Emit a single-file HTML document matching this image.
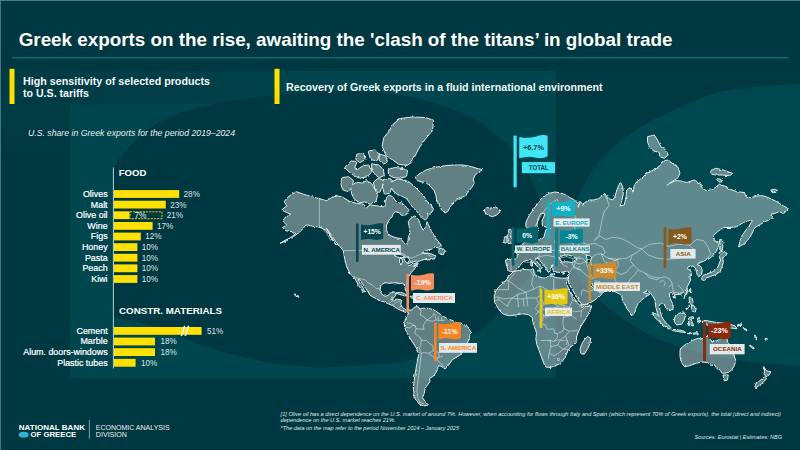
<!DOCTYPE html>
<html><head><meta charset="utf-8"><title>Greek exports</title>
<style>
html,body{margin:0;padding:0;}
body{width:800px;height:450px;overflow:hidden;background:#003841;font-family:"Liberation Sans",sans-serif;}
svg{display:block;}
svg text{font-family:"Liberation Sans",sans-serif;}
</style></head><body>
<svg width="800" height="450" viewBox="0 0 800 450">
<defs>
<linearGradient id="lm" x1="0" y1="0" x2="0" y2="1"><stop offset="0" stop-color="#013c45"/><stop offset="0.11" stop-color="#013c45"/><stop offset="0.3" stop-color="#003841"/><stop offset="1" stop-color="#003841"/></linearGradient>
<linearGradient id="bandg" x1="0" y1="0" x2="1" y2="0"><stop offset="0" stop-color="#013c45" stop-opacity="0.9"/><stop offset="0.2" stop-color="#013c45" stop-opacity="0.85"/><stop offset="0.55" stop-color="#013c45" stop-opacity="0"/><stop offset="1" stop-color="#013c45" stop-opacity="0"/></linearGradient>
<clipPath id="cpL"><rect x="113.3" y="72" width="442.7" height="306"/></clipPath>
<clipPath id="cpR"><rect x="556" y="72" width="244" height="306"/></clipPath>
</defs>
<rect x="0" y="0" width="800" height="450" fill="#003841"/>
<rect x="0" y="71" width="800" height="307" fill="url(#lm)"/>
<rect x="556" y="71" width="244" height="307" fill="#003942"/>
<rect x="70" y="71" width="486" height="307" fill="#00464e"/>
<rect x="70" y="71" width="486" height="33" fill="url(#bandg)"/>
<g clip-path="url(#cpL)"><path d="M100.0,240.0 C100.7,222.5 101.8,212.0 104.0,200.0 C106.2,188.0 107.7,178.0 113.0,168.0 C118.3,158.0 129.8,146.7 136.0,140.0 C142.2,133.3 143.5,132.2 150.0,128.0 C156.5,123.8 164.2,119.1 175.0,115.0 C185.8,110.9 200.8,106.5 215.0,103.5 C229.2,100.5 245.8,98.8 260.0,97.0 C274.2,95.2 286.7,94.0 300.0,93.0 C313.3,92.0 326.7,91.1 340.0,91.0 C353.3,90.9 368.3,91.5 380.0,92.5 C391.7,93.5 401.7,95.4 410.0,97.0 C418.3,98.6 421.7,99.5 430.0,102.0 C438.3,104.5 451.7,108.7 460.0,112.0 C468.3,115.3 473.3,117.7 480.0,122.0 C486.7,126.3 494.5,133.2 500.0,138.0 C505.5,142.8 508.7,145.7 513.0,151.0 C517.3,156.3 522.2,163.5 526.0,170.0 C529.8,176.5 533.3,183.3 536.0,190.0 C538.7,196.7 540.5,203.0 542.0,210.0 C543.5,217.0 546.7,222.0 545.0,232.0 C543.3,242.0 538.2,258.3 532.0,270.0 C525.8,281.7 517.7,291.3 508.0,302.0 C498.3,312.7 490.3,324.3 474.0,334.0 C457.7,343.7 434.0,354.5 410.0,360.0 C386.0,365.5 348.0,366.0 330.0,367.0 C312.0,368.0 311.2,366.6 302.0,366.0 C292.8,365.4 284.1,364.7 275.0,363.4 C265.9,362.1 256.7,360.1 247.5,358.0 C238.3,355.9 229.2,353.8 220.0,351.0 C210.8,348.2 201.7,344.8 192.5,341.4 C183.3,338.0 174.2,333.6 165.0,330.4 C155.8,327.2 146.2,324.3 137.5,322.0 C128.8,319.7 119.2,319.3 113.0,316.5 C106.8,313.7 102.2,317.8 100.0,305.0 C97.8,292.2 99.3,257.5 100.0,240.0Z" fill="#003841"/></g>
<g clip-path="url(#cpR)"><path d="M830.0,82.0 C813.3,59.3 813.3,83.1 800.0,84.0 C786.7,84.9 765.0,85.7 750.0,87.5 C735.0,89.3 725.2,90.1 710.0,95.0 C694.8,99.9 672.0,110.7 659.0,117.0 C646.0,123.3 641.8,125.8 632.0,133.0 C622.2,140.2 609.0,149.2 600.0,160.0 C591.0,170.8 583.5,184.7 578.0,198.0 C572.5,211.3 567.2,227.2 567.0,240.0 C566.8,252.8 571.8,265.2 577.0,275.0 C582.2,284.8 590.8,292.1 598.0,299.0 C605.2,305.9 611.3,310.7 620.0,316.7 C628.7,322.7 640.0,330.0 650.0,335.0 C660.0,340.0 670.0,343.4 680.0,346.7 C690.0,350.0 698.3,352.5 710.0,355.0 C721.7,357.5 735.0,359.8 750.0,361.7 C765.0,363.6 785.0,365.6 800.0,366.7 C815.0,367.8 823.3,392.4 840.0,368.0 C856.7,343.6 901.7,267.7 900.0,220.0 C898.3,172.3 846.7,104.7 830.0,82.0Z" fill="#004850"/></g>
<rect x="12" y="57.2" width="777" height="1.1" fill="#0c7a80"/>
<rect x="9.5" y="68.8" width="5" height="35.2" fill="#ffe000"/>
<rect x="274.5" y="68.8" width="5" height="35.2" fill="#ffe000"/>
<rect x="0" y="0" width="800" height="1" fill="#4b7d87"/><rect x="0" y="0" width="1" height="450" fill="#4b7d87" opacity="0.9"/>
<g id="map"><filter id="rough" x="-2%" y="-2%" width="104%" height="104%"><feTurbulence type="fractalNoise" baseFrequency="0.32" numOctaves="2" seed="7" result="n"/><feDisplacementMap in="SourceGraphic" in2="n" scale="2.6" xChannelSelector="R" yChannelSelector="G"/></filter><g filter="url(#rough)"><path d="M382.2,146.2 L382.2,146.5 L386.2,155.9 L386.4,156.1 L393.0,160.1 L398.4,164.1 L398.6,164.2 L406.6,165.5 L407.0,165.4 L411.0,162.7 L411.1,162.6 L415.1,156.0 L415.1,155.9 L419.1,148.0 L425.7,138.6 L432.4,130.8 L432.5,130.5 L433.5,120.5 L433.4,120.2 L433.1,120.0 L425.1,117.5 L425.0,117.5 L412.0,117.0 L411.9,117.0 L399.9,118.5 L399.7,118.6 L392.7,124.6 L392.6,124.8 L388.6,131.7 L383.6,138.0 L383.5,138.2Z M377.4,160.3 L379.1,155.3 L379.0,154.5 L375.6,150.3 L374.9,150.0 L369.1,150.9 L368.5,151.2 L368.4,151.9 L369.2,155.2 L369.3,155.4 L371.8,159.6 L372.3,160.0 L376.5,160.8 L377.1,160.7Z M364.9,159.5 L365.0,159.0 L364.1,154.0 L363.8,153.5 L363.2,153.4 L357.4,154.2 L357.0,154.4 L356.7,154.8 L355.9,159.0 L356.2,159.8 L359.5,162.3 L360.0,162.5 L360.4,162.4 L364.6,159.9Z M387.4,162.0 L387.4,161.4 L385.8,156.4 L385.3,155.9 L380.3,154.2 L379.5,154.4 L379.2,155.0 L379.2,160.0 L379.4,160.6 L382.8,163.9 L383.2,164.1 L383.7,164.0 L387.0,162.4Z M366.9,176.7 L367.3,176.5 L371.5,172.3 L371.7,171.8 L371.7,171.3 L369.2,165.5 L368.8,165.0 L368.2,164.9 L363.2,165.8 L362.8,165.9 L358.2,169.0 L354.5,167.8 L356.7,162.9 L356.6,162.1 L356.0,161.6 L351.8,160.8 L351.0,161.0 L345.2,166.9 L344.9,167.5 L345.2,168.1 L349.4,172.3 L349.5,172.4 L354.5,175.7 L354.6,175.8 L359.6,178.3 L360.2,178.4Z M383.7,175.8 L384.1,175.4 L384.2,174.9 L383.4,169.9 L383.1,169.4 L379.0,165.2 L378.5,164.9 L372.6,164.1 L371.9,164.3 L371.6,165.0 L371.6,169.2 L371.7,169.6 L374.2,173.8 L374.4,174.0 L378.6,177.4 L379.5,177.5Z M406.1,176.6 L406.6,176.0 L407.5,171.0 L407.4,170.4 L406.9,170.1 L401.9,168.4 L401.8,168.4 L395.1,167.5 L394.8,167.6 L388.9,169.2 L388.5,169.5 L388.4,170.0 L388.4,174.2 L388.8,174.9 L392.9,177.4 L393.2,177.5 L399.9,178.3 L400.2,178.3Z M350.9,188.6 L351.5,193.5 L351.6,193.8 L354.1,198.8 L354.4,199.2 L359.4,202.5 L360.2,202.7 L364.8,201.9 L369.6,204.2 L370.4,204.2 L375.4,201.7 L376.0,201.1 L377.6,195.3 L377.6,194.6 L375.1,189.6 L375.0,189.5 L371.7,183.7 L371.3,183.3 L367.2,180.8 L366.2,180.8 L362.3,183.1 L356.8,182.3 L356.1,182.5 L352.7,184.7 L353.3,180.9 L353.0,180.2 L348.8,176.9 L348.2,176.7 L342.4,177.5 L341.9,177.8 L341.7,178.2 L340.9,184.1 L340.9,184.4 L342.6,189.4 L343.0,189.9 L347.2,191.6 L348.1,191.4Z M382.5,186.8 L382.9,183.7 L382.5,186.6 L382.6,186.9 L384.2,193.5 L384.6,194.0 L385.2,194.1 L389.3,193.3 L389.9,192.8 L391.5,187.9 L392.5,190.3 L392.8,190.7 L396.9,194.0 L397.2,194.2 L401.3,195.8 L406.1,198.2 L409.3,202.2 L412.6,207.2 L412.7,207.3 L416.8,211.4 L420.1,215.6 L420.2,215.6 L424.4,219.8 L425.0,220.1 L425.6,219.8 L428.1,217.3 L428.4,216.4 L427.3,213.2 L429.7,214.2 L430.3,214.2 L430.8,213.8 L433.3,209.6 L433.3,208.7 L430.8,204.5 L430.6,204.3 L426.5,201.1 L424.1,196.3 L424.0,196.0 L414.0,186.0 L413.9,186.0 L408.9,181.8 L408.6,181.6 L403.6,180.0 L403.5,179.9 L397.6,179.1 L397.1,179.2 L392.1,181.7 L391.7,182.2 L390.8,178.9 L390.4,178.5 L389.9,178.4 L384.1,179.2 L383.6,179.4 L383.4,179.9 L383.3,180.8 L383.2,180.4 L382.8,180.1 L378.6,178.4 L377.8,178.5 L373.7,181.9 L373.4,182.7 L375.1,189.4 L375.4,189.8 L378.7,192.3 L379.4,192.4 L379.9,192.0 L382.4,187.0Z M436.7,200.0 L439.2,205.0 L441.7,210.0 L445.0,213.0 L447.5,211.7 L450.0,207.5 L452.5,203.3 L456.7,200.0 L461.7,197.5 L466.7,195.0 L468.3,191.7 L471.7,187.5 L474.2,183.3 L473.3,179.2 L475.0,175.0 L478.3,172.5 L482.5,169.7 L478.3,168.7 L471.7,166.7 L463.3,165.0 L453.3,165.0 L444.2,165.8 L435.0,167.5 L426.7,169.7 L420.0,173.3 L415.0,177.5 L417.5,180.8 L421.7,181.7 L426.7,183.3 L430.8,186.7 L434.2,190.8 L435.8,195.0Z M404.2,215.0 L405.9,214.8 L406.3,214.5 L408.8,210.3 L408.9,209.9 L408.8,209.6 L405.4,206.2 L405.1,206.2 L405.0,205.8 L401.7,202.5 L398.3,203.3 L395.0,200.0 L392.5,196.7 L389.2,195.0 L386.7,197.5 L385.0,202.5 L385.0,207.0 L376.7,205.8 L370.0,205.0 L366.7,207.5 L363.3,204.2 L356.7,203.3 L350.0,201.7 L343.3,197.5 L337.5,195.8 L331.7,197.5 L326.7,200.8 L319.2,198.7 L311.7,196.7 L303.3,194.2 L296.7,191.7 L291.7,194.2 L287.5,197.5 L284.2,201.7 L286.7,205.8 L281.7,210.0 L286.7,212.5 L290.8,214.2 L285.0,217.5 L283.3,221.7 L286.7,225.0 L282.5,227.5 L285.8,230.8 L291.7,231.7 L295.0,234.2 L290.0,238.0 L285.0,240.3 L280.0,243.3 L286.7,240.8 L293.3,236.7 L299.2,232.5 L303.3,228.3 L305.8,225.0 L309.2,225.3 L312.5,226.3 L317.5,226.7 L321.7,228.0 L325.8,230.3 L329.2,235.0 L332.5,240.0 L335.8,244.7 L326.4,228.2 L329.4,232.2 L332.4,236.6 L336.0,242.0 L340.0,246.6 L343.2,250.6 L344.0,255.0 L345.0,260.0 L346.7,266.8 L350.0,273.5 L354.2,277.7 L355.8,280.2 L358.3,285.2 L362.5,291.0 L365.0,292.7 L363.3,288.3 L360.3,283.7 L358.0,279.7 L359.7,279.7 L363.3,285.2 L367.5,291.0 L370.0,295.2 L374.2,297.7 L379.2,300.2 L384.2,301.8 L388.3,303.8 L392.5,305.5 L395.8,307.7 L399.2,309.7 L402.5,311.0 L405.8,312.5 L409.0,313.0 L408.5,313.5 L406.0,318.0 L404.2,323.0 L404.8,328.0 L407.0,333.0 L410.5,339.0 L415.0,346.0 L419.0,352.5 L417.5,360.0 L415.8,370.0 L414.2,380.0 L413.3,388.0 L414.2,395.0 L415.8,400.0 L419.2,404.0 L423.5,406.0 L428.5,405.0 L425.0,401.5 L422.5,397.5 L424.2,393.5 L425.0,388.5 L427.5,385.0 L430.0,381.5 L429.5,378.5 L433.5,376.0 L436.0,372.5 L437.5,369.5 L438.5,365.5 L442.0,366.5 L445.0,369.0 L449.0,364.5 L452.5,359.5 L459.5,355.5 L465.0,349.0 L467.5,343.0 L469.5,337.5 L470.8,332.0 L468.0,327.0 L462.0,323.5 L456.0,322.5 L452.0,320.3 L448.3,319.2 L443.3,316.3 L438.3,312.8 L433.3,309.5 L429.0,308.5 L424.0,308.0 L420.0,309.0 L417.8,306.3 L414.2,307.3 L411.7,310.0 L411.3,310.4 L411.7,310.0 L409.2,310.0 L405.8,309.7 L402.5,307.5 L400.8,304.2 L401.7,300.0 L397.5,299.2 L393.3,300.0 L390.8,299.2 L394.2,297.5 L396.2,294.2 L394.2,291.7 L390.0,293.3 L388.3,295.3 L385.0,296.3 L381.7,294.2 L380.0,290.0 L381.0,285.0 L385.0,282.7 L390.0,283.3 L395.0,282.7 L399.2,283.7 L402.5,283.0 L404.3,285.0 L405.3,290.0 L407.0,292.7 L407.3,286.7 L407.0,281.3 L408.7,276.7 L411.3,272.5 L414.7,268.7 L418.3,263.3 L413.7,267.0 L415.0,264.7 L417.5,262.4 L413.0,264.2 L409.0,265.6 L407.0,264.2 L412.0,262.2 L416.4,261.0 L417.8,262.1 L418.7,261.3 L421.7,260.3 L425.0,259.2 L428.0,260.0 L430.8,258.3 L434.2,259.2 L435.8,256.3 L433.3,254.7 L428.7,253.3 L425.0,253.7 L422.5,252.5 L426.7,250.3 L431.3,249.3 L434.7,247.0 L438.3,248.0 L441.2,245.3 L439.2,242.5 L435.8,238.3 L431.7,231.7 L428.7,225.3 L427.0,221.7 L425.8,226.7 L423.3,230.3 L420.8,225.8 L418.7,220.0 L415.0,215.8 L410.8,218.3 L408.3,221.7 L409.2,226.7 L410.0,232.5 L408.3,237.5 L408.0,242.5 L405.8,244.7 L403.7,242.5 L400.8,238.7 L395.0,237.5 L389.7,235.3 L386.7,230.8 L386.3,225.8 L389.2,219.7 L392.7,216.0 L392.5,215.0 L395.0,211.7 L399.1,212.5 L401.2,215.1 L401.7,215.3 L404.1,215.0 L404.2,215.0Z M397.0,257.0 L394.0,255.4 L398.0,254.2 L402.4,255.0 L404.4,257.0 L401.0,257.8Z M407.6,263.0 L405.0,261.4 L403.6,257.4 L408.0,257.0 L409.6,260.0Z M401.2,265.0 L399.6,263.4 L399.6,258.6 L402.0,258.2 L402.4,262.0Z M495.0,206.7 L490.8,208.3 L486.7,207.5 L484.2,210.0 L485.3,213.0 L488.3,215.3 L492.5,216.7 L496.7,215.0 L500.0,212.0 L499.2,209.2Z M438.7,251.7 L440.3,254.2 L443.3,254.7 L445.0,250.8 L442.5,248.0 L439.2,248.7Z M399.2,294.3 L404.2,295.7 L408.7,296.0 L406.7,294.7 L400.8,292.2 L395.8,293.0Z M297.6,297.4 L299.0,296.6 L297.0,294.6 L294.4,294.0 L295.0,295.4Z M414.2,295.8 L410.0,296.3 L411.7,298.3 L415.8,297.7Z M668.3,155.0 L665.8,150.0 L660.8,146.7 L657.5,140.0 L654.2,135.0 L647.5,136.7 L647.5,141.7 L649.2,146.7 L653.3,150.8 L659.2,152.5 L660.0,156.7 L664.2,158.3Z M540.0,180.1 L540.1,180.0 L540.0,180.0Z M511.0,235.0 L511.7,230.3 L509.0,229.0 L508.3,232.3 L507.0,236.3 L508.3,239.7 L507.7,243.7 L512.3,243.0 L513.0,239.7Z M505.7,243.3 L507.3,241.0 L506.7,236.3 L504.3,237.0 L503.8,242.3Z M530.0,259.5 L532.5,261.0 L535.0,264.0 L538.0,267.0 L540.5,269.5 L542.3,267.5 L541.0,265.5 L538.0,263.0 L536.0,260.0 L535.5,258.0 L538.0,258.5 L541.0,262.0 L543.5,265.0 L545.5,267.5 L547.0,270.0 L548.0,272.5 L550.0,271.0 L550.5,268.5 L553.0,264.5 L552.5,267.5 L553.0,270.5 L556.0,272.0 L560.0,272.5 L564.0,271.8 L568.0,271.0 L568.8,273.0 L568.5,277.0 L568.3,280.0 L568.8,283.5 L572.3,289.5 L575.8,295.5 L579.3,301.3 L581.5,304.0 L581.3,305.2 L585.0,304.3 L590.8,302.5 L595.8,299.3 L600.0,296.0 L602.7,292.7 L598.0,291.3 L595.0,289.3 L592.0,287.0 L590.0,285.0 L591.0,283.3 L592.7,285.0 L594.2,287.0 L597.0,288.7 L600.0,290.5 L602.5,291.7 L608.3,291.3 L615.0,291.7 L619.2,293.7 L621.7,295.8 L622.5,300.0 L624.2,303.3 L626.7,308.3 L630.0,312.5 L631.7,315.8 L634.2,313.3 L635.8,308.3 L638.3,303.3 L641.7,300.0 L645.8,296.7 L650.0,294.2 L643.3,292.5 L646.7,290.8 L650.0,292.5 L652.5,295.8 L655.0,300.0 L655.8,306.7 L657.5,313.3 L659.2,316.3 L656.7,314.2 L652.5,312.5 L654.2,316.7 L659.2,321.7 L664.2,325.8 L669.2,329.2 L670.8,327.5 L666.7,323.3 L665.0,321.7 L661.7,316.7 L660.0,310.0 L659.2,305.0 L661.7,303.3 L664.2,305.0 L666.7,308.3 L670.0,310.8 L673.3,308.3 L672.5,303.3 L670.0,298.3 L669.2,293.3 L671.7,292.5 L674.2,295.0 L679.2,294.2 L683.3,292.5 L687.2,289.4 L686.7,288.0 L688.7,284.0 L690.7,280.0 L690.0,276.7 L691.6,272.7 L690.0,270.0 L687.3,268.7 L688.3,266.7 L692.0,265.6 L694.8,267.3 L696.1,270.0 L696.9,274.0 L698.8,276.8 L701.6,274.4 L702.3,270.0 L700.4,266.0 L697.3,264.7 L700.0,262.7 L704.7,260.7 L709.3,258.7 L713.3,255.3 L716.7,250.7 L718.7,245.3 L719.6,241.7 L720.1,244.7 L720.1,249.3 L720.3,249.6 L721.9,250.3 L722.2,250.3 L722.3,250.0 L723.0,244.7 L723.0,244.6 L722.6,240.0 L722.5,239.8 L722.3,239.7 L719.6,239.7 L719.4,239.8 L719.3,240.1 L719.4,240.6 L717.5,242.5 L714.2,240.0 L713.3,235.8 L717.5,231.7 L723.3,227.5 L730.0,227.5 L736.7,226.7 L743.3,222.5 L750.0,220.3 L752.5,220.8 L750.8,223.0 L748.7,226.7 L745.3,230.8 L742.0,235.8 L739.7,241.7 L738.7,247.0 L743.3,244.3 L747.5,240.3 L750.8,235.8 L753.0,231.3 L755.0,227.5 L759.2,225.0 L765.0,221.7 L770.8,219.2 L772.5,218.3 L770.8,214.2 L775.0,213.3 L779.2,211.7 L784.2,213.3 L788.3,208.3 L783.3,205.8 L776.7,201.7 L770.0,198.3 L763.3,195.8 L757.5,195.8 L751.7,197.5 L746.7,197.5 L744.2,192.5 L736.7,191.7 L730.0,189.2 L724.2,185.8 L718.3,185.0 L713.3,189.2 L706.7,190.8 L702.5,188.3 L700.0,183.3 L694.2,180.0 L686.7,182.5 L680.0,180.8 L675.0,180.8 L668.3,184.2 L671.7,181.7 L677.5,178.3 L680.0,173.3 L678.3,167.5 L673.3,164.2 L668.3,160.0 L663.3,160.8 L660.0,165.8 L653.3,170.0 L646.7,173.3 L641.7,178.3 L636.7,181.7 L634.2,185.8 L633.3,191.7 L630.0,187.5 L626.7,190.0 L625.8,198.3 L624.2,205.0 L620.0,206.0 L622.0,200.0 L623.3,193.3 L622.7,186.7 L620.7,182.7 L618.7,185.3 L616.7,190.7 L614.7,197.3 L612.7,200.0 L609.3,198.7 L606.7,196.7 L604.7,193.3 L602.7,195.3 L598.7,198.7 L593.3,200.0 L589.3,200.0 L586.0,202.0 L582.7,204.0 L580.0,201.6 L579.1,205.3 L578.0,207.3 L578.7,204.7 L576.7,202.0 L573.3,199.3 L569.3,197.3 L565.3,194.7 L560.0,192.7 L554.7,192.0 L549.3,193.3 L544.0,196.0 L540.0,200.0 L538.0,203.5 L533.5,209.0 L529.0,216.0 L526.0,222.0 L525.8,226.5 L528.5,229.5 L531.5,229.0 L532.5,234.0 L535.5,235.0 L538.5,230.0 L537.0,225.0 L538.0,219.0 L541.0,213.0 L545.0,214.0 L542.0,221.0 L542.5,226.0 L546.0,227.0 L550.0,228.5 L546.0,229.5 L545.0,233.0 L544.0,237.0 L541.0,239.5 L536.0,240.5 L531.5,240.0 L531.0,236.0 L529.0,232.5 L528.0,236.0 L527.5,240.0 L525.0,242.0 L522.0,244.5 L519.5,247.5 L517.0,249.5 L513.5,251.5 L517.5,254.5 L516.5,259.0 L511.0,259.0 L505.5,260.0 L506.5,266.0 L508.5,271.0 L512.0,271.5 L515.0,271.0 L516.5,268.5 L519.5,266.0 L521.5,263.5 L523.5,261.5 L526.5,260.5Z M562.5,262.0 L560.0,260.0 L559.2,257.5 L563.3,255.3 L568.3,255.0 L572.5,256.3 L576.7,258.3 L575.8,261.3 L571.7,262.5 L566.7,261.7Z M587.2,258.7 L586.0,255.7 L589.3,255.0 L591.8,257.8 L590.5,261.2 L591.5,265.0 L588.5,265.7 L586.8,262.0Z M532.5,261.5 L530.8,261.5 L530.9,266.0 L532.6,266.0Z M541.0,270.0 L537.5,270.3 L538.0,271.8 L540.5,272.3Z M565.0,273.0 L562.5,273.5 L562.8,274.4 L564.6,274.2Z M554.0,273.8 L550.5,274.0 L550.5,275.0 L554.0,274.8Z M691.0,288.8 L689.5,288.3 L689.2,291.3 L690.5,292.5Z M686.0,294.7 L688.0,291.3 L687.3,289.6 L684.0,298.7Z M675.0,295.7 L673.0,296.0 L673.3,297.8 L675.0,297.7Z M689.2,305.3 L685.8,309.2 L686.3,310.0 L689.7,306.0Z M494.7,302.5 L496.7,305.8 L499.2,310.0 L503.3,314.2 L509.2,315.8 L515.8,315.0 L522.5,313.7 L528.3,314.7 L532.5,317.5 L532.5,321.0 L534.2,326.7 L536.7,332.5 L535.8,338.3 L536.7,344.2 L539.2,350.8 L541.7,357.5 L544.2,364.2 L545.8,367.0 L550.0,367.5 L555.0,365.8 L560.0,363.7 L563.3,360.0 L565.8,355.8 L567.5,351.7 L570.0,347.5 L574.2,344.2 L576.7,340.5 L576.5,337.0 L578.3,332.0 L580.8,326.5 L585.0,320.0 L590.0,311.7 L591.7,305.8 L586.7,306.7 L583.0,306.2 L580.5,306.0 L577.0,302.5 L573.3,296.5 L569.8,290.5 L566.3,284.0 L567.5,277.5 L566.0,278.2 L561.0,278.2 L556.0,277.5 L552.0,276.0 L548.0,276.0 L546.0,278.0 L542.0,278.0 L538.0,276.5 L535.0,275.0 L533.5,272.0 L533.0,268.7 L530.0,270.0 L524.0,269.5 L518.0,270.5 L513.0,272.0 L510.0,275.0 L507.0,279.0 L504.0,282.5 L499.0,286.5 L495.8,290.8 L494.2,296.7Z M679.2,313.3 L675.0,316.7 L674.2,321.7 L676.7,325.0 L681.7,324.2 L684.2,320.0 L685.8,315.0 L683.3,311.7Z M692.5,322.5 L690.8,319.2 L693.7,318.3 L693.3,316.7 L688.7,317.5 L688.7,320.8 L688.0,325.0 L689.2,325.8 L690.3,322.5 L691.7,325.8 L693.7,325.8Z M673.3,330.8 L680.0,332.0 L685.8,332.5 L683.3,330.8 L676.7,329.7 L670.8,329.2Z M690.8,332.7 L687.5,332.7 L687.5,333.7 L690.8,333.7Z M590.0,343.3 L590.8,338.3 L587.5,336.3 L584.2,340.0 L581.7,344.2 L580.0,349.2 L580.8,353.3 L584.2,354.2 L587.5,349.2Z M715.8,168.3 L710.0,170.8 L711.7,174.2 L715.8,175.0 L722.5,175.0 L730.0,175.8 L732.5,173.3 L723.3,170.0Z M720.8,179.2 L716.7,178.7 L718.0,182.0 L721.7,182.0Z M775.8,192.5 L777.5,190.3 L774.2,189.2 L770.8,190.0 L772.0,192.3Z M716.7,269.4 L712.4,272.0 L707.1,273.8 L707.1,273.8 L703.1,275.4 L702.8,275.8 L701.5,278.7 L701.4,279.1 L701.7,279.5 L703.9,280.5 L704.3,280.6 L704.7,280.3 L705.9,278.0 L710.3,276.6 L710.3,276.6 L715.7,274.6 L715.8,274.5 L719.8,271.8 L720.0,271.6 L722.0,266.9 L722.0,266.8 L723.4,262.2 L723.4,261.9 L722.6,257.5 L724.7,257.1 L725.0,256.9 L727.0,253.5 L727.1,253.2 L726.8,253.0 L722.8,251.0 L722.5,251.0 L719.2,252.3 L719.0,252.5 L719.0,252.8 L720.2,255.7 L719.8,255.7 L719.5,256.0 L719.4,256.5 L720.6,260.0 L718.6,265.1Z M689.3,300.0 L690.0,303.3 L691.7,305.0 L693.0,302.5 L692.0,297.5 L689.2,297.0Z M691.7,308.7 L692.5,311.3 L695.3,312.0 L696.3,308.3 L693.7,305.3 L691.3,305.8Z M699.2,317.5 L697.5,318.3 L698.0,322.0 L699.7,321.7Z M727.5,327.5 L732.5,328.3 L737.0,328.7 L735.0,325.8 L730.0,324.2 L724.2,323.3 L716.7,322.5 L710.0,321.3 L705.0,320.3 L702.0,321.7 L703.0,323.3 L705.8,324.7 L710.0,325.8 L714.2,326.7 L718.3,328.0 L723.3,328.3Z M741.3,323.7 L737.5,324.7 L738.3,326.0 L742.0,325.0Z M747.5,330.0 L743.3,327.5 L742.8,328.3 L747.0,331.0Z M697.5,332.7 L692.5,333.0 L693.0,334.2 L698.3,333.8Z M756.0,336.3 L754.7,335.0 L755.3,338.7 L756.7,340.0Z M767.0,338.3 L765.0,338.7 L765.3,340.0 L767.3,339.7Z M754.2,348.0 L750.0,345.0 L749.5,346.0 L753.7,349.0Z M707.5,362.5 L711.7,365.8 L714.2,364.2 L716.7,368.3 L720.0,370.8 L723.3,373.3 L728.3,372.5 L731.7,370.0 L734.2,365.8 L735.8,360.8 L734.2,355.8 L731.3,347.5 L728.0,342.5 L726.7,338.3 L725.0,334.7 L723.0,336.7 L720.0,339.2 L716.7,340.8 L712.5,341.7 L710.0,339.2 L707.5,336.3 L704.2,337.0 L701.7,339.3 L698.3,338.3 L693.3,340.0 L687.5,343.3 L682.5,346.7 L680.0,350.0 L680.0,356.7 L681.7,362.5 L684.2,366.7 L689.2,365.8 L695.0,363.7 L701.7,362.0Z M763.3,366.7 L764.7,370.0 L764.2,373.3 L765.8,376.7 L769.2,375.0 L770.8,371.7 L766.7,370.8Z M728.3,375.0 L723.0,375.0 L724.2,380.8 L727.5,380.0Z M759.2,381.2 L754.2,385.3 L755.8,387.8 L760.8,384.5 L766.7,378.7 L764.2,377.0Z" fill="#f0ece8" fill-opacity="0.4" fill-rule="evenodd" stroke="#e3eded" stroke-width="1.0" stroke-linejoin="round"/></g><path d="M319.3,198.7 L319.3,226.5 L323.0,229.0 L327.0,234.0 L331.0,241.0 M343.5,250.6 L395.0,250.6 L399.0,252.5 L404.0,254.0 L408.0,257.5 L412.0,258.0 L416.0,256.0 L420.0,254.5 L424.0,252.5 L427.5,252.0 L429.0,255.5 L431.5,256.5 M354.0,277.5 L360.0,278.7 L365.0,279.7 L367.5,282.5 L372.5,285.0 L375.8,288.3 L381.0,289.2 M389.0,303.5 L392.0,301.0 L395.0,301.0 L396.0,298.5 M393.0,305.0 L396.5,302.5 L400.0,301.0 M399.0,307.5 L402.0,306.0 M418.0,307.3 L421.3,311.3 L420.0,314.7 L424.7,317.3 L426.7,320.0 M426.7,320.0 L430.0,318.0 L433.3,315.3 L434.0,312.7 M434.7,314.0 L436.0,320.0 M438.0,316.0 L438.7,320.7 M441.3,316.7 L442.0,320.7 M426.7,320.0 L432.0,321.3 L436.0,320.0 L442.0,320.7 L445.3,320.0 M406.7,322.7 L410.7,323.3 L415.3,326.0 M406.0,327.3 L410.0,328.0 L412.7,325.3 L415.3,326.0 M426.7,320.0 L423.3,325.3 L424.0,329.3 L416.0,328.7 L415.3,326.0 M416.0,328.7 L414.7,333.3 L420.0,337.3 L421.3,340.0 M421.3,340.0 L420.7,345.3 L419.3,348.0 M421.3,340.0 L426.7,340.7 L430.0,344.0 L432.7,345.3 L433.3,350.7 M419.3,348.0 L421.3,353.3 L424.7,352.7 L428.7,353.3 L433.3,350.7 M433.3,350.7 L438.0,352.0 L439.3,356.0 L436.7,358.7 L432.9,356.7 L428.7,353.3 M421.3,353.3 L420.5,360.0 L419.5,370.0 L418.0,380.0 L417.0,390.0 L417.5,398.0 L420.0,402.5 L424.0,404.0 M436.7,358.7 L438.5,361.5 L441.5,364.0 L444.0,367.0 M436.7,358.7 L440.0,357.0 L443.0,356.0 M514.9,273.1 L511.8,276.8 L508.5,280.5 L501.1,282.3 M508.5,280.5 L517.7,287.8 L526.0,292.4 L534.3,288.8 L531.5,284.1 L533.4,275.8 L530.6,271.2 M533.4,275.8 L535.2,273.1 L533.9,269.7 M534.3,288.8 L539.8,286.0 L552.7,292.4 L552.7,289.3 L553.7,288.8 L553.7,278.6 M553.7,289.3 L569.3,289.7 M497.4,289.7 L508.5,289.7 L508.5,280.5 M498.3,297.1 L502.9,298.9 L512.1,298.0 L517.7,294.3 L526.0,292.4 M526.0,292.4 L526.9,298.0 L536.1,298.0 L540.7,295.2 L539.8,286.0 M540.7,295.2 L543.5,303.5 L550.9,299.8 L552.7,292.4 M526.9,298.0 L527.8,306.3 M536.1,298.0 L538.9,303.5 L535.2,308.5 M494.6,297.1 L498.3,297.1 L499.2,299.8 L495.2,300.7 M499.2,299.8 L503.8,303.5 L507.5,306.3 M507.5,306.3 L509.4,301.7 L512.1,298.0 M517.7,294.3 L517.7,298.9 L518.6,307.2 M512.1,298.0 L517.7,298.9 L523.2,298.9 L526.9,298.0 M523.2,298.9 L524.1,306.6 M550.9,299.8 L553.7,303.5 L558.3,306.3 L563.8,305.4 L569.3,307.2 M569.3,289.7 L571.2,295.2 L573.0,299.8 L569.3,307.2 M573.0,299.8 L579.5,301.7 L583.2,304.4 L585.9,306.3 L581.3,310.9 L574.9,311.8 L571.2,310.3 L569.3,307.2 M583.2,304.4 L589.6,305.4 M571.2,310.3 L571.5,315.5 L576.7,319.2 M581.3,310.9 L580.8,317.4 M543.5,303.5 L541.7,309.0 L547.2,310.3 L553.7,308.1 L558.3,306.3 M535.2,308.5 L538.3,311.8 L541.7,309.0 M535.2,315.5 L538.3,311.8 L543.5,314.6 L542.6,321.0 L539.4,322.9 M547.2,310.3 L550.9,315.5 L545.4,317.4 L543.5,314.6 M563.8,305.4 L564.7,311.8 L563.4,317.4 L562.9,322.9 L563.8,328.4 M564.7,311.8 L571.5,310.3 M563.4,317.4 L571.5,315.5 M563.8,328.4 L569.3,331.2 L577.6,330.6 M539.4,323.8 L545.4,324.7 L547.2,329.3 L553.7,328.8 L554.6,333.0 L557.3,333.6 L557.3,337.6 M557.3,333.6 L562.9,331.2 L563.8,328.4 M540.7,340.4 L549.0,340.4 L553.7,341.3 L557.3,337.6 M553.7,341.3 L561.0,339.5 L565.6,335.8 L569.3,331.2 M565.6,335.8 L567.5,341.3 L566.0,345.0 M550.0,339.2 L550.8,346.7 L549.2,353.3 L548.3,359.2 M550.8,346.7 L557.5,345.0 L563.3,349.2 L558.3,353.3 L554.2,355.8 L549.2,353.3 M557.5,345.0 L560.0,340.8 L566.7,340.0 L569.2,345.0 L563.3,349.2 M563.3,349.2 L567.5,349.2 L567.5,352.5 M557.2,358.7 L559.2,358.0 L560.0,360.0 L558.0,361.0 L557.2,358.7 M594.0,240.7 L599.8,236.0 L605.7,239.5 L612.7,237.2 L620.8,238.3 L630.2,243.0 L637.2,247.7 L641.8,248.8 M594.5,255.1 L601.0,253.5 L608.0,258.2 L617.3,259.3 L626.7,258.2 L632.5,254.7 L637.2,252.3 L641.8,248.8 M641.8,248.8 L650.0,244.2 L660.5,243.0 L668.7,246.5 L678.0,244.2 L689.7,245.3 L694.3,250.0 L687.3,253.5 L680.3,258.2 L668.7,259.3 L657.0,258.2 L647.7,254.7 L641.8,248.8 M689.7,245.3 L696.7,239.5 L703.7,240.7 L708.3,247.7 L710.7,254.7 L706.0,259.3 M632.5,254.7 L630.2,260.5 L633.7,265.2 L638.3,269.8 L645.3,273.3 L652.3,276.8 L659.3,278.0 L665.2,276.8 L669.8,279.2 L672.2,283.8 L668.7,287.3 M638.3,269.8 L634.8,274.5 L630.2,279.2 L626.7,285.0 M617.3,259.3 L618.5,265.2 L615.0,271.0 L620.8,274.5 L626.7,272.2 L630.2,267.5 L633.7,265.2 M615.0,271.0 L615.0,280.3 L618.5,285.0 M594.5,255.1 L591.2,258.9 L587.0,259.8 L585.8,261.7 M585.8,261.7 L587.5,267.5 L590.5,273.3 L592.8,279.2 M601.0,253.5 L604.5,261.7 L610.3,264.0 L617.3,259.3 M608.0,258.2 L615.0,260.5 L619.7,258.2 M672.2,283.8 L673.3,292.0 L675.7,299.0 M678.0,285.0 L682.7,289.7 L686.2,296.7 M673.3,292.0 L679.2,293.2 L682.7,296.7 M659.3,282.7 L662.8,280.3 L665.2,282.7 L664.0,286.2 M645.3,273.3 L648.8,277.5 L657.0,279.9 L659.3,278.0 M697.8,262.8 L701.3,261.7 M573.0,267.5 L580.0,269.8 L587.5,276.1 L591.7,279.2 M582.3,289.7 L589.3,292.0 L597.5,287.3 L599.8,281.5 L594.5,280.8 M597.5,287.3 L599.8,293.2 M582.3,289.7 L581.2,295.5 M575.3,259.3 L582.3,258.2 L585.8,261.7 M573.0,267.5 L575.3,262.8 L580.0,264.0 L585.8,261.7 M569.5,272.2 L573.0,267.5 M533.3,230.0 L537.3,222.0 L542.7,212.7 L549.3,204.7 L557.3,199.3 M557.3,199.3 L560.0,207.3 L559.2,214.0 M569.9,200.7 L572.5,210.0 L576.0,218.0 L572.0,223.3 M572.0,223.3 L576.0,230.0 L574.7,236.7 L580.0,242.0 L588.0,244.7 L594.7,243.3 L602.7,247.3 L605.3,252.7 L601.3,255.3 M580.0,242.0 L577.3,247.3 L581.3,252.7 L588.0,255.3 M554.7,240.7 L556.0,247.3 M570.7,239.3 L573.3,244.7 L572.0,249.2 M540.0,250.0 L546.7,251.9 L554.7,250.0 L562.7,250.8 L572.0,249.2 M534.7,244.7 L540.0,250.0 L538.7,256.7 L540.0,261.5 M524.5,262.0 L533.3,262.5 M510.7,259.9 L511.2,270.0 M538.7,256.7 L546.7,255.3 L553.3,256.7 M553.3,256.7 L560.0,258.0 L566.7,256.7 L573.3,258.8 L580.0,256.7 M560.0,258.0 L562.7,264.7 L568.0,267.3 M573.3,258.8 L572.0,264.7 L577.3,268.7 L580.0,266.0 M577.3,268.7 L581.3,270.0 M604.7,194.0 L609.3,205.3 L604.0,212.0 L602.0,220.0 L600.0,230.7 L598.7,236.0 L594.5,240.0" fill="none" stroke="#e3eded" stroke-width="0.6" stroke-linejoin="round" opacity="0.9"/></g>
<g id="bars"><rect x="113.8" y="190.1" width="65.4" height="7.8" fill="#ffe000"/><text x="107.6" y="196.9" font-size="8.9" font-weight="400" fill="#fff" text-anchor="end" stroke="#fff" stroke-width="0.22">Olives</text><text x="183.6" y="196.9" font-size="8.15" font-weight="400" fill="#dbe6e8">28%</text><rect x="113.8" y="200.7" width="52.0" height="7.8" fill="#ffe000"/><text x="107.6" y="207.5" font-size="8.9" font-weight="400" fill="#fff" text-anchor="end" stroke="#fff" stroke-width="0.22">Malt</text><text x="170.2" y="207.5" font-size="8.15" font-weight="400" fill="#dbe6e8">23%</text><rect x="113.8" y="211.3" width="15.7" height="7.8" fill="#ffe000"/><rect x="130.0" y="211.8" width="32.0" height="6.8999999999999995" fill="none" stroke="#ffe000" stroke-width="0.9" stroke-dasharray="2.1 1.1"/><text x="134.5" y="218.1" font-size="8.2" font-weight="400" fill="#e8eff0">7%</text><text x="107.6" y="218.1" font-size="8.9" font-weight="400" fill="#fff" text-anchor="end" stroke="#fff" stroke-width="0.22">Olive oil</text><text x="166.8" y="218.1" font-size="8.15" font-weight="400" fill="#dbe6e8">21%</text><rect x="113.8" y="222.0" width="38.8" height="7.8" fill="#ffe000"/><text x="107.6" y="228.8" font-size="8.9" font-weight="400" fill="#fff" text-anchor="end" stroke="#fff" stroke-width="0.22">Wine</text><text x="157.0" y="228.8" font-size="8.15" font-weight="400" fill="#dbe6e8">17%</text><rect x="113.8" y="232.6" width="27.0" height="7.8" fill="#ffe000"/><text x="107.6" y="239.4" font-size="8.9" font-weight="400" fill="#fff" text-anchor="end" stroke="#fff" stroke-width="0.22">Figs</text><text x="145.2" y="239.4" font-size="8.15" font-weight="400" fill="#dbe6e8">12%</text><rect x="113.8" y="243.2" width="23.6" height="7.8" fill="#ffe000"/><text x="107.6" y="250.0" font-size="8.9" font-weight="400" fill="#fff" text-anchor="end" stroke="#fff" stroke-width="0.22">Honey</text><text x="141.8" y="250.0" font-size="8.15" font-weight="400" fill="#dbe6e8">10%</text><rect x="113.8" y="253.8" width="23.6" height="7.8" fill="#ffe000"/><text x="107.6" y="260.6" font-size="8.9" font-weight="400" fill="#fff" text-anchor="end" stroke="#fff" stroke-width="0.22">Pasta</text><text x="141.8" y="260.6" font-size="8.15" font-weight="400" fill="#dbe6e8">10%</text><rect x="113.8" y="264.4" width="23.6" height="7.8" fill="#ffe000"/><text x="107.6" y="271.2" font-size="8.9" font-weight="400" fill="#fff" text-anchor="end" stroke="#fff" stroke-width="0.22">Peach</text><text x="141.8" y="271.2" font-size="8.15" font-weight="400" fill="#dbe6e8">10%</text><rect x="113.8" y="275.1" width="23.6" height="7.8" fill="#ffe000"/><text x="107.6" y="281.9" font-size="8.9" font-weight="400" fill="#fff" text-anchor="end" stroke="#fff" stroke-width="0.22">Kiwi</text><text x="141.8" y="281.9" font-size="8.15" font-weight="400" fill="#dbe6e8">10%</text><rect x="113.8" y="327.0" width="87.8" height="7.8" fill="#ffe000"/><text x="107.6" y="333.8" font-size="8.9" font-weight="400" fill="#fff" text-anchor="end" stroke="#fff" stroke-width="0.22">Cement</text><text x="207.0" y="333.8" font-size="8.15" font-weight="400" fill="#dbe6e8">51%</text><rect x="113.8" y="337.6" width="41.2" height="7.8" fill="#ffe000"/><text x="107.6" y="344.4" font-size="8.9" font-weight="400" fill="#fff" text-anchor="end" stroke="#fff" stroke-width="0.22">Marble</text><text x="160.4" y="344.4" font-size="8.15" font-weight="400" fill="#dbe6e8">18%</text><rect x="113.8" y="348.2" width="41.2" height="7.8" fill="#ffe000"/><text x="107.6" y="355.0" font-size="8.9" font-weight="400" fill="#fff" text-anchor="end" stroke="#fff" stroke-width="0.22">Alum. doors-windows</text><text x="160.4" y="355.0" font-size="8.15" font-weight="400" fill="#dbe6e8">18%</text><rect x="113.8" y="358.9" width="21.8" height="7.8" fill="#ffe000"/><text x="107.6" y="365.7" font-size="8.9" font-weight="400" fill="#fff" text-anchor="end" stroke="#fff" stroke-width="0.22">Plastic tubes</text><text x="141.0" y="365.7" font-size="8.15" font-weight="400" fill="#dbe6e8">10%</text><path d="M181.3,335.9 L184.7,325.8 M185.2,335.9 L188.6,325.8" stroke="#fff" stroke-width="1.5" fill="none"/><rect x="112.9" y="167.5" width="0.9" height="201" fill="#cfdcde"/></g>
<g id="flags"><rect x="356.0" y="223.4" width="2.6" height="38.6" rx="1" fill="#07464f"/><path d="M361.0,224.6 C365.4,225.4 369.9,225.4 374.3,224.2 S380.5,222.9 383.2,223.6 L383.2,238.5 C380.5,239.7 377.6,240.5 373.2,239.5 S365.4,239.2 361.0,239.9 Z" fill="#07464f"/><text x="363.5" y="234.4" font-size="7.0" font-weight="700" fill="#fff" textLength="17.3" lengthAdjust="spacingAndGlyphs">+15%</text><rect x="361.9" y="244.9" width="38.9" height="9.8" fill="#e4e9e9"/><text x="363.5" y="252.1" font-size="6.25" font-weight="700" fill="#07464f" textLength="36.4" lengthAdjust="spacingAndGlyphs">N. AMERICA</text><rect x="406.4" y="273.6" width="2.6" height="38.8" rx="1" fill="#f88c5f"/><path d="M411.0,274.8 C415.6,275.7 420.2,275.7 424.8,274.4 S431.2,273.1 434.0,273.8 L434.0,289.1 C431.2,290.3 428.2,291.2 423.6,290.0 S415.6,289.8 411.0,290.5 Z" fill="#f88c5f"/><text x="414.2" y="284.8" font-size="7.0" font-weight="700" fill="#fff" textLength="16.5" lengthAdjust="spacingAndGlyphs">-19%</text><rect x="413.0" y="293.0" width="42.0" height="10.0" fill="#e4e9e9"/><text x="415.9" y="300.2" font-size="6.25" font-weight="700" fill="#f88c5f" textLength="36.8" lengthAdjust="spacingAndGlyphs">C. AMERICA</text><rect x="434.0" y="322.4" width="2.6" height="39.1" rx="1" fill="#fb8220"/><path d="M438.4,323.6 C442.9,324.5 447.4,324.5 452.0,323.2 S458.3,321.9 461.0,322.6 L461.0,337.9 C458.3,339.1 455.4,340.0 450.8,338.8 S442.9,338.6 438.4,339.3 Z" fill="#fb8220"/><text x="441.7" y="333.6" font-size="7.0" font-weight="700" fill="#fff" textLength="16.0" lengthAdjust="spacingAndGlyphs">-11%</text><rect x="439.0" y="343.0" width="38.0" height="9.8" fill="#e4e9e9"/><text x="440.5" y="350.1" font-size="6.25" font-weight="700" fill="#fb8220" textLength="35.6" lengthAdjust="spacingAndGlyphs">S. AMERICA</text><rect x="513.5" y="135.4" width="3.2" height="52.1" rx="1" fill="#40e6f5"/><path d="M519.2,137.0 C524.9,138.2 530.6,138.2 536.2,136.5 S544.2,134.8 547.6,135.7 L547.6,156.2 C544.2,157.8 540.5,159.0 534.8,157.4 S524.9,157.1 519.2,158.1 Z" fill="#40e6f5"/><text x="523.0" y="149.6" font-size="7.3" font-weight="700" fill="#0b3e4a" textLength="20.9" lengthAdjust="spacingAndGlyphs">+6.7%</text><rect x="521.8" y="162.1" width="33.2" height="11.1" fill="#40e6f5"/><text x="528.8" y="170.0" font-size="6.5" font-weight="700" fill="#0b3e4a" textLength="19.8" lengthAdjust="spacingAndGlyphs">TOTAL</text><rect x="547.0" y="200.6" width="3.0" height="38.4" rx="1" fill="#10b2c8"/><path d="M552.0,201.8 C556.6,202.6 561.2,202.6 565.8,201.4 S572.2,200.2 575.0,200.8 L575.0,215.4 C572.2,216.5 569.2,217.3 564.6,216.3 S556.6,216.0 552.0,216.7 Z" fill="#10b2c8"/><text x="556.5" y="211.4" font-size="7.0" font-weight="700" fill="#fff" textLength="14.0" lengthAdjust="spacingAndGlyphs">+9%</text><rect x="553.5" y="218.4" width="36.1" height="8.2" fill="#e4e9e9"/><text x="555.5" y="224.8" font-size="6.25" font-weight="700" fill="#10b2c8" textLength="32.6" lengthAdjust="spacingAndGlyphs">E. EUROPE</text><rect x="511.6" y="227.0" width="2.8" height="39.0" rx="1" fill="#04626c"/><path d="M516.4,228.2 C520.7,229.0 525.0,229.0 529.4,227.8 S535.4,226.5 538.0,227.2 L538.0,242.1 C535.4,243.3 532.6,244.1 528.3,243.1 S520.7,242.8 516.4,243.5 Z" fill="#04626c"/><text x="522.2" y="238.0" font-size="7.0" font-weight="700" fill="#fff" textLength="9.9" lengthAdjust="spacingAndGlyphs">0%</text><rect x="515.0" y="245.4" width="36.6" height="7.6" fill="#e4e9e9"/><text x="516.8" y="251.4" font-size="6.25" font-weight="700" fill="#04626c" textLength="33.5" lengthAdjust="spacingAndGlyphs">W. EUROPE</text><rect x="555.0" y="228.0" width="3.0" height="38.4" rx="1" fill="#058694"/><path d="M560.0,230.0 C564.6,230.8 569.2,230.8 573.8,229.7 S580.2,228.6 583.0,229.2 L583.0,242.3 C580.2,243.4 577.2,244.1 572.6,243.1 S564.6,242.9 560.0,243.5 Z" fill="#058694"/><text x="565.4" y="239.0" font-size="7.0" font-weight="700" fill="#fff" textLength="12.3" lengthAdjust="spacingAndGlyphs">-3%</text><rect x="559.6" y="245.4" width="30.2" height="7.6" fill="#e4e9e9"/><text x="560.7" y="251.4" font-size="6.25" font-weight="700" fill="#058694" textLength="28.6" lengthAdjust="spacingAndGlyphs">BALKANS</text><rect x="588.4" y="262.0" width="2.8" height="39.0" rx="1" fill="#c98c30"/><path d="M593.2,263.2 C597.8,264.1 602.5,264.1 607.1,262.8 S613.6,261.5 616.4,262.2 L616.4,277.5 C613.6,278.7 610.6,279.6 606.0,278.4 S597.8,278.2 593.2,278.9 Z" fill="#c98c30"/><text x="596.0" y="273.2" font-size="7.0" font-weight="700" fill="#fff" textLength="17.6" lengthAdjust="spacingAndGlyphs">+33%</text><rect x="594.0" y="282.4" width="46.0" height="8.6" fill="#e4e9e9"/><text x="596.1" y="288.9" font-size="6.25" font-weight="700" fill="#c98c30" textLength="42.4" lengthAdjust="spacingAndGlyphs">MIDDLE EAST</text><rect x="539.6" y="288.4" width="2.8" height="39.6" rx="1" fill="#e2c812"/><path d="M544.4,289.6 C549.0,290.4 553.7,290.4 558.3,289.2 S564.8,287.9 567.6,288.6 L567.6,303.5 C564.8,304.7 561.8,305.5 557.2,304.5 S549.0,304.2 544.4,304.9 Z" fill="#e2c812"/><text x="547.2" y="299.4" font-size="7.0" font-weight="700" fill="#fff" textLength="17.6" lengthAdjust="spacingAndGlyphs">+36%</text><rect x="545.0" y="307.6" width="27.0" height="8.4" fill="#e4e9e9"/><text x="547.0" y="314.1" font-size="6.25" font-weight="700" fill="#e2c812" textLength="23.6" lengthAdjust="spacingAndGlyphs">AFRICA</text><rect x="663.6" y="227.0" width="2.8" height="41.0" rx="1" fill="#855a1e"/><path d="M668.4,228.7 C673.0,229.6 677.7,229.6 682.3,228.3 S688.8,227.0 691.6,227.7 L691.6,243.0 C688.8,244.2 685.8,245.1 681.2,243.9 S673.0,243.7 668.4,244.4 Z" fill="#855a1e"/><text x="673.0" y="238.7" font-size="7.0" font-weight="700" fill="#fff" textLength="14.0" lengthAdjust="spacingAndGlyphs">+2%</text><rect x="670.4" y="249.0" width="25.2" height="9.6" fill="#e4e9e9"/><text x="675.8" y="256.1" font-size="6.25" font-weight="700" fill="#855a1e" textLength="15.0" lengthAdjust="spacingAndGlyphs">ASIA</text><rect x="703.0" y="322.0" width="3.1" height="39.0" rx="1" fill="#8a2a0e"/><path d="M708.1,323.2 C712.6,324.1 717.1,324.1 721.7,322.9 S728.0,321.5 730.7,322.2 L730.7,337.8 C728.0,339.0 725.1,339.9 720.5,338.7 S712.6,338.4 708.1,339.2 Z" fill="#8a2a0e"/><text x="711.0" y="333.4" font-size="7.0" font-weight="700" fill="#fff" textLength="16.8" lengthAdjust="spacingAndGlyphs">-23%</text><rect x="709.8" y="344.0" width="34.8" height="10.3" fill="#e4e9e9"/><text x="713.0" y="351.4" font-size="6.25" font-weight="700" fill="#8a2a0e" textLength="28.9" lengthAdjust="spacingAndGlyphs">OCEANIA</text></g>
<g id="txt"><text x="18.7" y="46.4" font-size="18.5" font-weight="700" fill="#fff" textLength="653.8" lengthAdjust="spacingAndGlyphs">Greek exports on the rise, awaiting the 'clash of the titans’ in global trade</text><text x="23.0" y="84.5" font-size="11.2" font-weight="700" fill="#f3f7f7" textLength="187.0" lengthAdjust="spacingAndGlyphs">High sensitivity of selected products</text><text x="23.0" y="96.6" font-size="11.2" font-weight="700" fill="#f3f7f7" textLength="66.0" lengthAdjust="spacingAndGlyphs">to U.S. tariffs</text><text x="286.0" y="90.7" font-size="11.2" font-weight="700" fill="#f3f7f7" textLength="316.6" lengthAdjust="spacingAndGlyphs">Recovery of Greek exports in a fluid international environment</text><text x="28.0" y="135.5" font-size="8.9" font-weight="400" fill="#e6eef0" font-style="italic" textLength="207.0" lengthAdjust="spacingAndGlyphs">U.S. share in Greek exports for the period 2019–2024</text><text x="118.7" y="175.7" font-size="9.6" font-weight="700" fill="#fff" textLength="27.6" lengthAdjust="spacingAndGlyphs">FOOD</text><text x="119.0" y="313.7" font-size="9.6" font-weight="700" fill="#fff" textLength="103.0" lengthAdjust="spacingAndGlyphs">CONSTR. MATERIALS</text><text x="280.6" y="415.6" font-size="5.6" font-weight="400" fill="#dfe8ea" font-style="italic" textLength="500.4" lengthAdjust="spacingAndGlyphs">[1] Olive oil has a direct dependence on the U.S. market of around 7%. However, when accounting for flows through Italy and Spain (which represent 70% of Greek exports), the total (direct and indirect)</text><text x="280.6" y="422.0" font-size="5.6" font-weight="400" fill="#dfe8ea" font-style="italic" textLength="114.9" lengthAdjust="spacingAndGlyphs">dependence on the U.S. market reaches 21%.</text><text x="280.6" y="430.4" font-size="5.6" font-weight="400" fill="#dfe8ea" font-style="italic" textLength="178.4" lengthAdjust="spacingAndGlyphs">*The data on the map refer to the period November 2024 – January 2025</text><text x="694.4" y="439.0" font-size="5.6" font-weight="400" fill="#dfe8ea" font-style="italic" textLength="87.6" lengthAdjust="spacingAndGlyphs">Sources: Eurostat | Estimates: NBG</text><text x="18.8" y="429.5" font-size="8.0" font-weight="700" fill="#fff" textLength="66.2" lengthAdjust="spacingAndGlyphs">NATIONAL BANK</text><text x="30.5" y="437.1" font-size="8.0" font-weight="700" fill="#fff" textLength="45.8" lengthAdjust="spacingAndGlyphs">OF GREECE</text><ellipse cx="23.7" cy="434.7" rx="5" ry="2.9" fill="#2fb5da"/><rect x="88.9" y="420" width="0.8" height="18.8" fill="#9fb6ba"/><text x="95.8" y="429.5" font-size="7.1" font-weight="400" fill="#e8eff0" textLength="73.8" lengthAdjust="spacingAndGlyphs">ECONOMIC ANALYSIS</text><text x="95.8" y="437.1" font-size="7.1" font-weight="400" fill="#e8eff0" textLength="31.2" lengthAdjust="spacingAndGlyphs">DIVISION</text></g>
</svg>
</body></html>
